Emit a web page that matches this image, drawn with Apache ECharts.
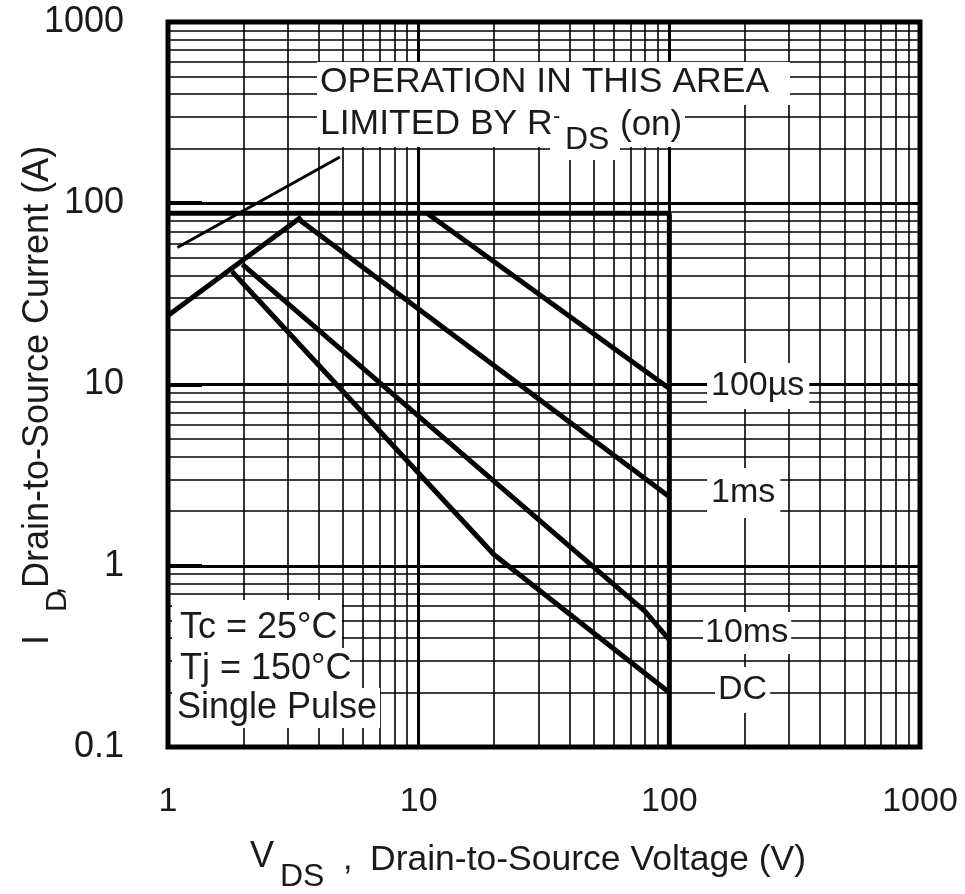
<!DOCTYPE html>
<html>
<head>
<meta charset="utf-8">
<script src="https://cdn.jsdelivr.net/npm/echarts@6/dist/echarts.min.js"></script>
<style>
  html, body { margin: 0; padding: 0; background: #fff; }
  #chart { width: 965px; height: 894px; }
</style>
</head>
<body>
<div id="chart"></div>
<script>
// Maximum safe operating area, log-log
var minorX = [2, 3, 4, 5, 6, 7, 8, 9, 20, 30, 40, 50, 60, 70, 80, 90, 200, 300, 400, 500, 600, 700, 800, 900];
var minorY = [0.2, 0.3, 0.4, 0.5, 0.6, 0.7, 0.8, 0.9, 2, 3, 4, 5, 6, 7, 8, 9,
  20, 30, 40, 50, 60, 70, 80, 90, 200, 300, 400, 500, 600, 700, 800, 900];

// curves [VDS, ID]
var rdsPointer = [[1.09, 57], [4.85, 180]];
var rdsLimit = [[1, 24], [3.4, 84]];
var currentLimit = [[1, 88], [100, 88]];
var voltageLimit = [[100, 88], [100, 0.1]];
var pulse100us = [[10.8, 88], [100, 9.5]];
var pulse1ms = [[3.3, 82], [100, 2.4]];
var pulse10ms = [[1.98, 46], [80, 0.56], [100, 0.39]];
var dcLine = [[1.8, 42], [20, 1.15], [100, 0.2]];

var FONT = '"Liberation Sans", Arial, sans-serif';
var chart = echarts.init(document.getElementById('chart'));

function curve(data, width) {
  return {
    type: 'line',
    data: data,
    symbol: 'none',
    silent: true,
    z: 3,
    lineStyle: { color: '#000', width: width }
  };
}

function label(text, x, y, size, pad) {
  return {
    type: 'text',
    x: x,
    y: y,
    z: 100,
    silent: true,
    style: {
      text: text,
      font: size + 'px ' + FONT,
      fill: '#1a1a1a',
      align: 'left',
      verticalAlign: 'middle',
      backgroundColor: pad ? '#fff' : null,
      padding: pad || 0
    }
  };
}

function whiteBox(x, y, w, h) {
  return {
    type: 'rect',
    z: 99,
    silent: true,
    shape: { x: x, y: y, width: w, height: h },
    style: { fill: '#fff' }
  };
}

function vtext(text, x, y, size) {
  return {
    type: 'text',
    x: x,
    y: y,
    rotation: Math.PI / 2,
    silent: true,
    style: {
      text: text,
      font: size + 'px ' + FONT,
      fill: '#1a1a1a',
      align: 'left',
      verticalAlign: 'middle'
    }
  };
}

function plain(v) { return String(v); }

var gridLines = minorX.map(function (v) { return { xAxis: v }; })
  .concat(minorY.map(function (v) { return { yAxis: v }; }));

var option = {
  animation: false,
  grid: {
    left: 168, right: 45, top: 22, bottom: 147,
    show: true, borderColor: '#000', borderWidth: 5
  },
  xAxis: {
    type: 'log', logBase: 10, min: 1, max: 1000,
    axisLine: { show: false },
    axisTick: { show: false },
    axisLabel: { color: '#1a1a1a', fontSize: 34, fontFamily: FONT, margin: 38, formatter: plain },
    splitLine: { show: true, lineStyle: { color: '#000', width: 3 } }
  },
  yAxis: {
    type: 'log', logBase: 10, min: 0.1, max: 1000,
    axisLine: { show: false },
    axisTick: { show: true, inside: true, length: 34, lineStyle: { color: '#000', width: 4 } },
    axisLabel: { color: '#1a1a1a', fontSize: 36, fontFamily: FONT, margin: 44, formatter: plain },
    splitLine: { show: true, lineStyle: { color: '#000', width: 3 } }
  },
  series: [
    {
      type: 'line',
      data: [],
      silent: true,
      z: 1,
      markLine: {
        silent: true,
        symbol: ['none', 'none'],
        label: { show: false },
        lineStyle: { color: '#000', width: 1.6, type: 'solid' },
        emphasis: { disabled: true },
        data: gridLines
      }
    },
    curve(rdsPointer, 3),
    curve(rdsLimit, 5),
    curve(currentLimit, 5),
    curve(voltageLimit, 5),
    curve(pulse100us, 5),
    curve(pulse1ms, 5),
    curve(pulse10ms, 5),
    curve(dcLine, 5)
  ],
  graphic: [
    whiteBox(317, 62, 473, 43),
    whiteBox(317, 105, 368, 42),
    whiteBox(550, 115, 70, 45),
    label('OPERATION IN THIS AREA', 320, 82, 35.5),
    label('LIMITED BY R', 320, 124, 35.5),
    label('-', 553, 117, 22),
    label('DS', 565, 140, 32),
    label('(on)', 620, 125, 35),

    label('100\u00b5s', 707, 386, 34, [6, 5, 6, 4]),
    label('1ms', 707, 493, 34, [8, 5, 8, 4]),
    label('10ms', 703, 633, 34, [4, 3, 4, 2]),
    label('DC', 715, 690, 34, [6, 3, 6, 3]),

    whiteBox(172, 600, 170, 50),
    whiteBox(172, 648, 178, 42),
    whiteBox(172, 688, 208, 40),
    label('Tc = 25\u00b0C', 180, 628, 36),
    label('Tj = 150\u00b0C', 180, 669, 36),
    label('Single Pulse', 177, 708, 36),

    // axis titles
    label('V', 250, 857, 36),
    label('DS', 280, 877, 32),
    label(',', 343, 860, 34),
    label('Drain-to-Source Voltage (V)', 370, 860, 35.5),

    vtext('I', 38, 645, 36),
    vtext('D', 58, 612, 30),
    vtext(',', 52, 596, 34),
    vtext('Drain-to-Source Current (A)', 38, 588, 36)
  ]
};

chart.setOption(option);
</script>
</body>
</html>
